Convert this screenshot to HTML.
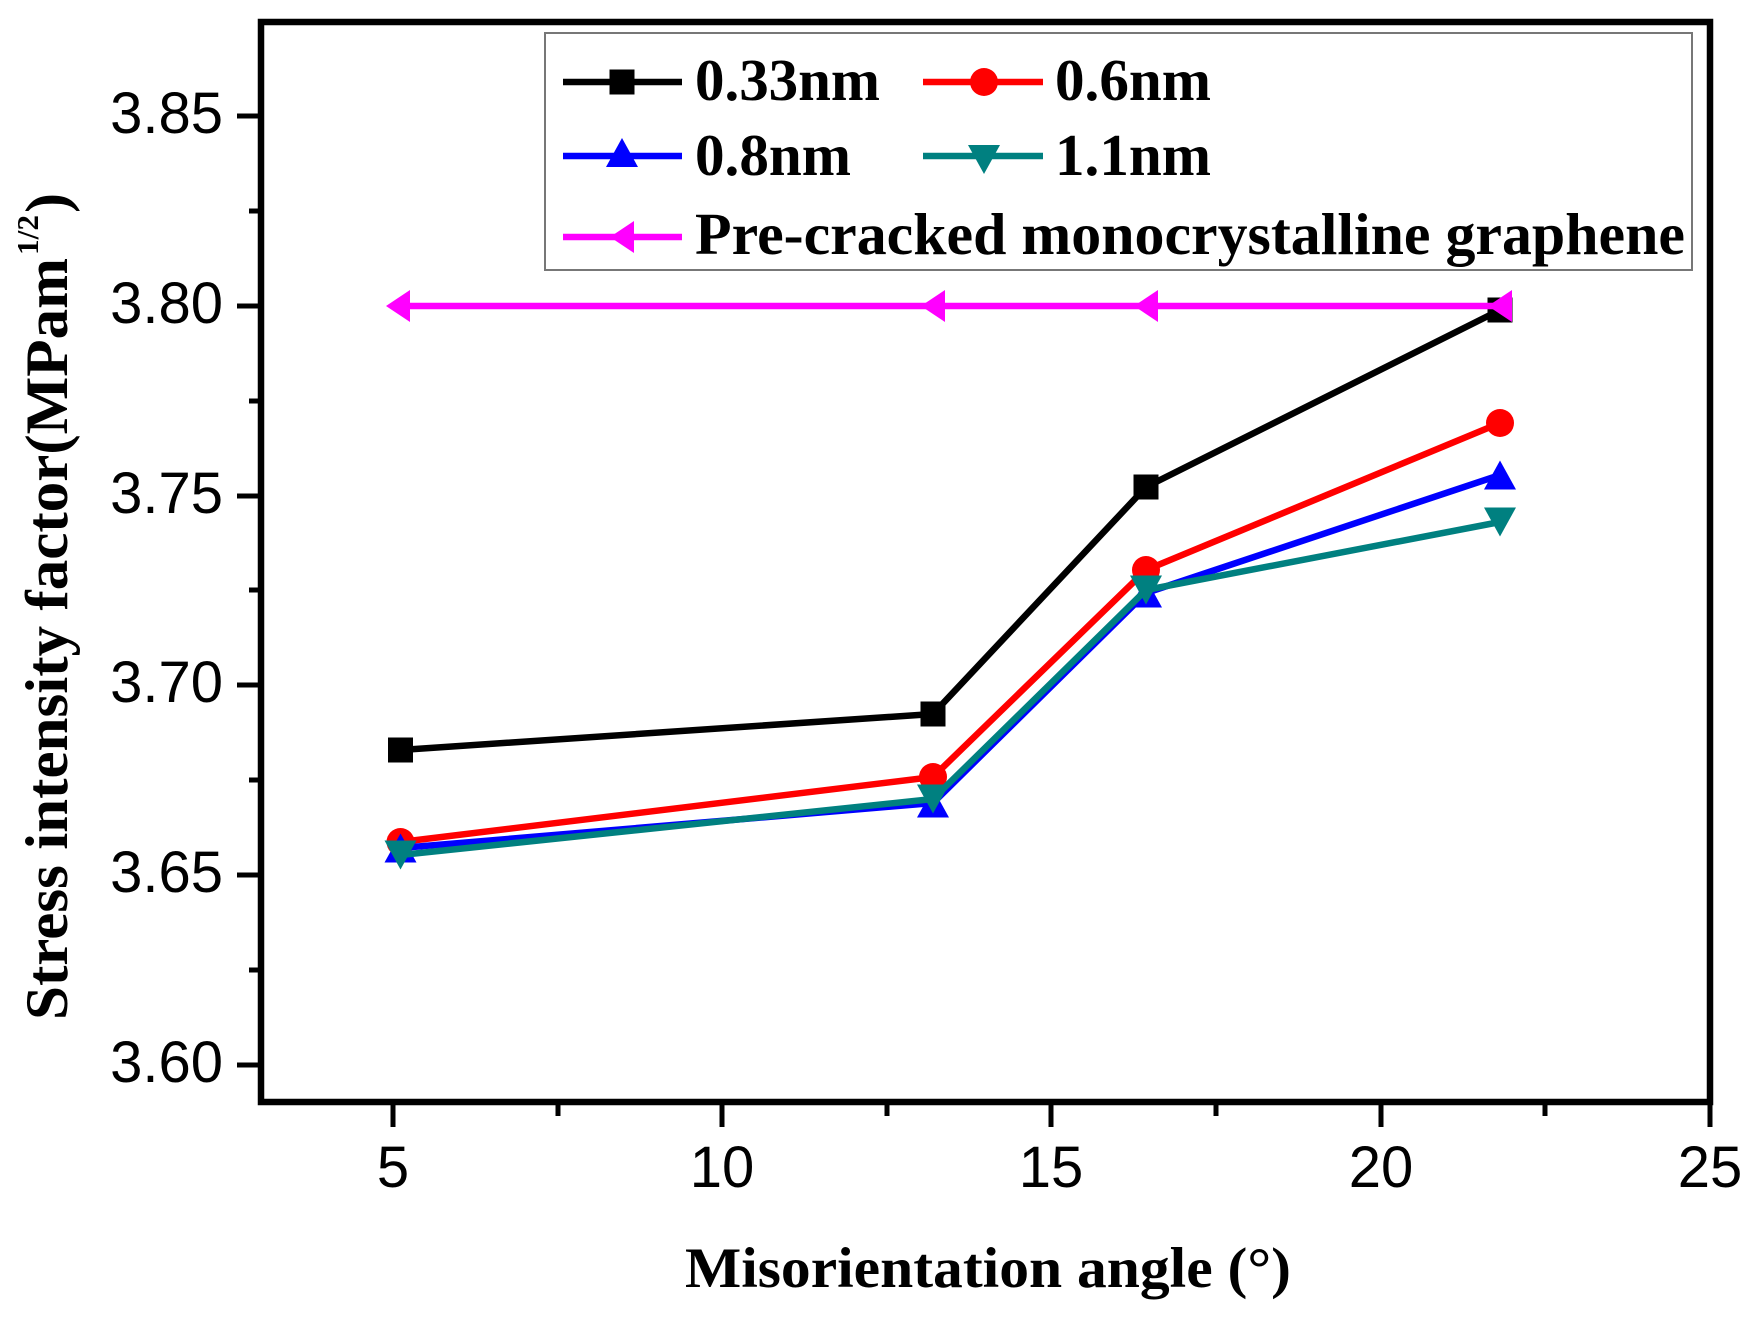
<!DOCTYPE html>
<html>
<head>
<meta charset="utf-8">
<style>
  html, body { margin: 0; padding: 0; background: #ffffff; }
  body { width: 1758px; height: 1318px; overflow: hidden; }
  svg { display: block; }
  .tick { font-family: "Liberation Sans", Arial, sans-serif; font-size: 58px; fill: #000; }
  .bold { font-family: "Liberation Serif", "Times New Roman", serif; font-weight: bold; fill: #000; }
</style>
</head>
<body>
<svg width="1758" height="1318" viewBox="0 0 1758 1318" xmlns="http://www.w3.org/2000/svg">
  <rect x="0" y="0" width="1758" height="1318" fill="#ffffff"/>

  <!-- Y ticks (outward, left) -->
  <g stroke="#000" stroke-width="5">
    <line x1="237" y1="116" x2="261" y2="116"/>
    <line x1="237" y1="306" x2="261" y2="306"/>
    <line x1="237" y1="496" x2="261" y2="496"/>
    <line x1="237" y1="685" x2="261" y2="685"/>
    <line x1="237" y1="875" x2="261" y2="875"/>
    <line x1="237" y1="1065" x2="261" y2="1065"/>
    <line x1="249" y1="211" x2="261" y2="211"/>
    <line x1="249" y1="401" x2="261" y2="401"/>
    <line x1="249" y1="590" x2="261" y2="590"/>
    <line x1="249" y1="780" x2="261" y2="780"/>
    <line x1="249" y1="970" x2="261" y2="970"/>
  </g>

  <!-- X ticks (outward, down) -->
  <g stroke="#000" stroke-width="5">
    <line x1="393" y1="1102" x2="393" y2="1127"/>
    <line x1="722" y1="1102" x2="722" y2="1127"/>
    <line x1="1051" y1="1102" x2="1051" y2="1127"/>
    <line x1="1381" y1="1102" x2="1381" y2="1127"/>
    <line x1="1710" y1="1102" x2="1710" y2="1127"/>
    <line x1="558" y1="1102" x2="558" y2="1116"/>
    <line x1="887" y1="1102" x2="887" y2="1116"/>
    <line x1="1216" y1="1102" x2="1216" y2="1116"/>
    <line x1="1545" y1="1102" x2="1545" y2="1116"/>
  </g>

  <!-- Frame -->
  <rect x="261" y="22" width="1449" height="1080" fill="none" stroke="#000" stroke-width="6.5"/>

  <!-- Y tick labels -->
  <g class="tick" text-anchor="end">
    <text x="223" y="133">3.85</text>
    <text x="223" y="323">3.80</text>
    <text x="223" y="513">3.75</text>
    <text x="223" y="702">3.70</text>
    <text x="223" y="892">3.65</text>
    <text x="223" y="1082">3.60</text>
  </g>

  <!-- X tick labels -->
  <g class="tick" text-anchor="middle">
    <text x="393" y="1187">5</text>
    <text x="722" y="1187">10</text>
    <text x="1051" y="1187">15</text>
    <text x="1381" y="1187">20</text>
    <text x="1710" y="1187">25</text>
  </g>

  <!-- X axis title -->
  <text class="bold" x="685" y="1287" font-size="57" textLength="606" lengthAdjust="spacingAndGlyphs">Misorientation angle (°)</text>

  <!-- Y axis title -->
  <text class="bold" transform="translate(67,1020) rotate(-90)" x="0" y="0" font-size="60" textLength="762" lengthAdjust="spacingAndGlyphs">Stress intensity factor(MPam</text>
  <text class="bold" transform="translate(38,255) rotate(-90)" x="0" y="0" font-size="31" textLength="40" lengthAdjust="spacingAndGlyphs">1/2</text>
  <text class="bold" transform="translate(67,213) rotate(-90)" x="0" y="0" font-size="60" textLength="20" lengthAdjust="spacingAndGlyphs">)</text>

  <!-- Series: black 0.33nm -->
  <polyline points="400.5,750 933,714 1146,487 1500,310" fill="none" stroke="#000000" stroke-width="6.5" stroke-linejoin="round"/>
  <g fill="#000000">
    <rect x="388" y="737.5" width="25" height="25"/>
    <rect x="920.5" y="701.5" width="25" height="25"/>
    <rect x="1133.5" y="474.5" width="25" height="25"/>
    <rect x="1487.5" y="297.5" width="25" height="25"/>
  </g>

  <!-- Series: red 0.6nm -->
  <polyline points="400.5,842 933,777 1146,570 1500,423" fill="none" stroke="#ff0000" stroke-width="6.5" stroke-linejoin="round"/>
  <g fill="#ff0000">
    <circle cx="400.5" cy="842" r="14"/>
    <circle cx="933" cy="777" r="14"/>
    <circle cx="1146" cy="570" r="14"/>
    <circle cx="1500" cy="423" r="14"/>
  </g>

  <!-- Series: blue 0.8nm -->
  <polyline points="400.5,848 933,803 1146,593 1500,475" fill="none" stroke="#0000ff" stroke-width="6.5" stroke-linejoin="round"/>
  <g fill="#0000ff">
    <polygon points="400.5,833.5 384.5,862.5 416.5,862.5"/>
    <polygon points="933,788.5 917,817.5 949,817.5"/>
    <polygon points="1146,578.5 1130,607.5 1162,607.5"/>
    <polygon points="1500,460.5 1484,489.5 1516,489.5"/>
  </g>

  <!-- Series: teal 1.1nm -->
  <polyline points="400.5,855 933,799 1146,590 1500,522" fill="none" stroke="#008080" stroke-width="6.5" stroke-linejoin="round"/>
  <g fill="#008080">
    <polygon points="384.5,840.5 416.5,840.5 400.5,869.5"/>
    <polygon points="917,784.5 949,784.5 933,813.5"/>
    <polygon points="1130,575.5 1162,575.5 1146,604.5"/>
    <polygon points="1484,507.5 1516,507.5 1500,536.5"/>
  </g>

  <!-- Series: magenta pre-cracked -->
  <polyline points="398,306 933,306 1146,306 1500,306" fill="none" stroke="#ff00ff" stroke-width="6.5"/>
  <g fill="#ff00ff">
    <polygon points="386,306 410,290 410,322"/>
    <polygon points="921,306 945,290 945,322"/>
    <polygon points="1134,306 1158,290 1158,322"/>
    <polygon points="1488,306 1512,290 1512,322"/>
  </g>

  <!-- Legend -->
  <rect x="545" y="33" width="1147" height="237" fill="#ffffff" stroke="#777777" stroke-width="2"/>

  <!-- row 1 -->
  <line x1="563" y1="82" x2="682" y2="82" stroke="#000000" stroke-width="6.5"/>
  <rect x="609.5" y="69.5" width="25" height="25" fill="#000000"/>
  <text class="bold" x="695" y="100" font-size="59" textLength="185" lengthAdjust="spacingAndGlyphs">0.33nm</text>

  <line x1="923" y1="82" x2="1043" y2="82" stroke="#ff0000" stroke-width="6.5"/>
  <circle cx="984" cy="82" r="14" fill="#ff0000"/>
  <text class="bold" x="1055" y="100" font-size="59" textLength="156" lengthAdjust="spacingAndGlyphs">0.6nm</text>

  <!-- row 2 -->
  <line x1="563" y1="156" x2="682" y2="156" stroke="#0000ff" stroke-width="6.5"/>
  <polygon points="622,138 606,167 638,167" fill="#0000ff"/>
  <text class="bold" x="695" y="175" font-size="59" textLength="156" lengthAdjust="spacingAndGlyphs">0.8nm</text>

  <line x1="923" y1="156" x2="1043" y2="156" stroke="#008080" stroke-width="6.5"/>
  <polygon points="968,145 1000,145 984,174" fill="#008080"/>
  <text class="bold" x="1055" y="175" font-size="59" textLength="156" lengthAdjust="spacingAndGlyphs">1.1nm</text>

  <!-- row 3 -->
  <line x1="563" y1="237" x2="682" y2="237" stroke="#ff00ff" stroke-width="6.5"/>
  <polygon points="610,237 634,221 634,253" fill="#ff00ff"/>
  <text class="bold" x="695" y="254" font-size="59" textLength="990" lengthAdjust="spacingAndGlyphs">Pre-cracked monocrystalline graphene</text>
</svg>
</body>
</html>
